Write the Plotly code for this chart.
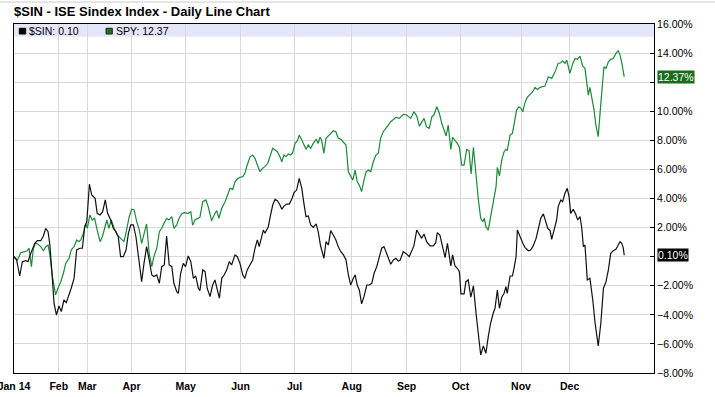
import plotly.graph_objects as go

# ---------------- data (trading-day index, % change) ----------------
sin_day = [
    0.0, 1.0, 2.2, 3.2, 4.5, 5.4, 6.2, 7.0, 8.0, 9.0,
    10.3, 11.3, 12.2, 13.1, 13.8, 14.7, 15.4, 16.3, 17.3, 18.2,
    19.2, 20.1, 21.2, 22.0, 23.1, 24.1, 25.3, 26.3, 27.2, 28.0,
    29.0, 29.9, 31.2, 32.0, 33.1, 34.1, 35.1, 36.0, 37.2, 38.2,
    39.2, 40.1, 41.0, 42.0, 43.1, 44.0, 44.9, 45.9, 46.9, 47.8,
    49.1, 50.0, 51.0, 52.0, 53.0, 53.8, 54.9, 55.9, 56.8, 57.8,
    58.7, 59.7, 60.7, 61.5, 62.6, 63.2, 64.1, 65.1, 66.0, 67.0,
    68.0, 69.0, 69.9, 70.9, 71.5, 72.6, 73.5, 74.3, 75.4, 76.4,
    77.3, 78.2, 79.0, 79.9, 80.8, 81.8, 82.8, 83.7, 85.0, 85.9,
    86.9, 88.0, 88.8, 89.7, 90.8, 91.8, 92.7, 93.6, 94.3, 95.3,
    95.9, 96.5, 97.8, 98.7, 99.5, 100.4, 101.3, 102.3, 103.0, 103.8,
    104.9, 105.9, 106.8, 107.7, 108.7, 109.7, 110.7, 111.3, 112.3, 113.2,
    114.1, 115.1, 116.2, 117.0, 117.9, 119.2, 120.0, 120.9, 121.8, 122.8,
    123.8, 124.7, 125.7, 126.7, 127.7, 128.6, 129.5, 130.5, 131.2, 132.0,
    132.8, 133.7, 134.6, 135.7, 136.7, 137.6, 138.5, 139.5, 140.5, 141.4,
    142.3, 143.1, 144.0, 144.9, 145.9, 146.9, 147.8, 148.5, 149.7, 151.0,
    152.0, 153.0, 153.8, 154.9, 155.9, 156.8, 157.7, 158.7, 160.0, 161.3,
    162.2, 162.8, 163.8, 164.9, 165.8, 166.7, 167.4, 168.0, 168.7, 169.6,
    170.5, 171.3, 171.9, 173.1, 173.8, 174.7, 175.7, 176.7, 177.7, 178.6,
    179.5, 180.5, 181.5, 182.4, 183.3, 184.3, 185.0, 185.9, 186.7, 187.6,
    188.5, 189.2, 189.7, 190.8, 191.7, 192.3, 193.1, 193.6, 194.6, 195.7,
    196.5, 197.8, 198.7, 199.7, 200.8, 201.7, 202.6, 203.6, 204.5, 205.3,
    206.2, 206.8, 207.7, 208.7, 209.3, 210.3, 211.0, 211.9, 212.8, 213.5,
    214.1, 215.1, 216.0, 216.8, 217.7, 218.3, 219.0, 219.6, 220.5, 221.5,
    222.6, 223.5, 224.7, 225.7, 226.7, 227.7, 228.6, 229.5, 230.5, 231.5,
    232.4, 233.1, 233.7, 234.3, 234.7,
]
sin_pct = [
    0.00, -0.23, -1.33, -0.34, -0.27, -0.34, 0.12, 0.51, 0.92, 1.10,
    1.10, 1.42, 1.95, 1.72, 0.80, -1.37, -3.20, -4.01, -3.39, -3.78,
    -2.98, -3.16, -2.63, -2.17, -1.49, 0.46, 0.58, 0.58, 2.06, 2.41,
    4.98, 4.24, 4.01, 2.98, 2.87, 3.09, 3.90, 2.98, 2.52, 1.95,
    1.72, 1.37, 0.00, 0.00, 0.46, 1.61, 2.18, 2.18, 1.37, 0.00,
    -1.72, -0.46, 0.69, -0.23, -1.26, -1.37, -1.26, -1.83, -0.69, -0.57,
    1.42, -0.57, -0.69, -1.83, -2.41, -2.52, -1.14, -0.46, -0.69, 0.05,
    -0.34, -1.49, -1.33, -2.17, -2.34, -0.91, -1.03, -2.17, -2.75, -1.95,
    -1.60, -2.29, -2.86, -1.49, -1.26, -0.91, -0.34, -0.57, 0.12, 0.00,
    -0.46, -1.26, -1.49, -0.91, -0.57, -0.23, 0.58, 1.15, 0.69, 1.37,
    1.83, 1.61, 2.06, 2.87, 3.55, 3.94, 3.85, 3.55, 3.26, 3.48,
    3.62, 3.62, 3.94, 4.40, 4.58, 5.39, 4.70, 3.90, 2.75, 2.80,
    2.18, 2.02, 2.25, 1.72, 0.75, -0.11, 1.03, 0.80, 1.79, 1.49,
    1.15, 0.69, 0.34, 0.12, -0.23, -1.26, -1.95, -1.49, -1.26, -1.95,
    -2.29, -3.25, -2.75, -1.95, -1.95, -1.83, -1.14, -0.69, 0.00, 0.58,
    0.69, 0.34, 0.00, -0.52, -0.23, -0.11, -0.30, -0.25, 0.34, 0.19,
    0.00, 0.41, 0.74, 1.83, 1.56, 1.26, 1.56, 1.03, 0.74, 0.74,
    0.96, 1.65, 1.49, 0.69, -0.07, 0.92, -0.11, -0.64, 0.12, -0.64,
    -0.80, -1.03, -2.56, -2.56, -1.72, -1.60, -2.79, -2.01, -3.89, -5.27,
    -6.76, -6.14, -6.64, -5.50, -4.58, -3.89, -3.55, -2.29, -3.55, -2.79,
    -2.52, -2.06, -2.52, -1.33, -1.33, -0.80, 0.00, 1.83, 1.37, 0.92,
    0.64, 0.41, 0.46, 0.74, 1.26, 1.95, 2.64, 2.94, 2.41, 1.95,
    1.79, 1.19, 1.83, 2.52, 3.44, 3.90, 3.78, 4.36, 4.70, 4.12,
    2.98, 3.26, 2.94, 2.52, 2.75, 2.06, 0.69, 0.80, -1.60, -1.49,
    -2.98, -4.58, -6.14, -4.58, -2.17, -1.72, -0.91, 0.23, 0.41, 0.51,
    0.80, 1.03, 0.92, 0.64, 0.10,
]

spy_day = [
    0.0, 1.3, 2.6, 3.8, 5.1, 5.8, 6.7, 7.4, 8.3, 9.2,
    10.3, 11.3, 12.2, 13.1, 13.8, 14.7, 16.0, 16.9, 18.0, 19.0,
    19.9, 21.2, 22.0, 23.1, 24.1, 25.0, 25.7, 26.7, 27.6, 28.2,
    29.2, 30.1, 31.0, 32.0, 33.1, 34.0, 34.9, 35.7, 36.5, 37.4,
    38.5, 39.7, 41.0, 42.3, 43.3, 44.3, 45.3, 46.2, 47.2, 48.2,
    49.1, 50.0, 51.0, 52.0, 53.0, 53.8, 54.9, 55.9, 56.8, 57.7,
    58.7, 59.6, 60.7, 61.5, 62.6, 63.5, 64.5, 65.4, 67.0, 68.0,
    68.7, 69.6, 70.8, 71.5, 72.6, 73.8, 74.7, 76.0, 77.3, 78.0,
    78.8, 79.9, 81.2, 82.0, 83.1, 84.1, 85.0, 85.9, 86.9, 88.0,
    88.8, 89.7, 90.8, 91.8, 92.7, 93.6, 94.6, 95.5, 96.5, 97.6,
    98.5, 99.5, 100.4, 101.3, 102.3, 103.0, 103.8, 104.6, 105.5, 106.4,
    107.2, 108.1, 109.0, 109.7, 110.7, 111.3, 112.3, 113.2, 114.1, 115.1,
    116.2, 117.0, 117.7, 118.3, 119.2, 120.0, 120.9, 121.8, 122.8, 123.8,
    124.7, 125.7, 126.7, 127.7, 128.6, 129.5, 130.3, 131.2, 132.0, 132.8,
    133.7, 134.6, 135.4, 136.3, 137.2, 138.2, 139.2, 140.1, 141.0, 142.0,
    143.1, 144.0, 144.9, 145.9, 146.9, 148.2, 149.7, 151.0, 152.6, 153.8,
    154.9, 155.9, 156.8, 157.7, 158.7, 159.7, 160.7, 161.5, 162.6, 163.6,
    164.5, 165.4, 166.2, 167.0, 168.0, 168.7, 169.6, 170.5, 171.3, 172.2,
    173.1, 174.1, 175.0, 175.8, 176.7, 177.7, 178.6, 179.5, 180.3, 180.9,
    181.5, 182.4, 183.3, 184.3, 185.4, 185.9, 186.7, 187.6, 188.5, 189.2,
    189.7, 190.8, 191.7, 192.4, 193.3, 194.2, 195.0, 195.7, 196.5, 197.4,
    198.5, 199.5, 200.4, 201.3, 202.3, 204.2, 205.5, 206.8, 208.1, 209.3,
    210.3, 211.0, 211.9, 212.6, 213.8, 214.9, 215.8, 216.7, 217.7, 218.7,
    219.6, 220.9, 221.5, 222.2, 223.1, 223.8, 224.7, 225.7, 226.4, 226.9,
    227.7, 228.6, 229.5, 230.5, 231.5, 232.4, 233.1, 233.7, 234.7,
]
spy_pct = [
    0.00, -0.23, 0.27, 0.34, 0.41, 0.58, -0.69, 0.51, 0.96, 0.85,
    0.69, 0.41, 0.69, 0.80, 0.12, -1.26, -2.63, -2.17, -1.72, -1.14,
    -0.46, -0.11, 0.46, 0.69, 1.15, 1.03, 1.15, 1.61, 2.29, 1.95,
    2.87, 2.52, 2.64, 1.83, 1.03, 1.37, 2.06, 2.52, 1.95, 2.52,
    1.95, 1.49, 1.26, 1.03, 1.83, 2.75, 3.26, 3.21, 2.41, 1.83,
    0.92, 1.49, 2.25, 0.23, -0.69, 0.00, 0.58, 1.72, 1.95, 2.29,
    2.64, 2.52, 2.75, 1.95, 2.18, 2.64, 2.94, 3.03, 2.98, 3.09,
    2.16, 2.52, 2.64, 2.71, 3.78, 3.90, 3.44, 2.47, 2.98, 3.16,
    2.64, 3.33, 3.78, 4.24, 4.70, 4.63, 5.15, 5.34, 5.46, 5.50,
    5.73, 6.30, 6.87, 6.99, 6.76, 6.30, 5.84, 6.07, 6.19, 6.42,
    6.99, 7.45, 7.33, 7.22, 6.87, 6.53, 6.99, 6.87, 7.06, 6.99,
    7.15, 7.79, 7.97, 8.36, 8.02, 7.79, 7.38, 7.68, 7.45, 7.79,
    8.07, 7.79, 8.21, 8.02, 7.11, 8.14, 8.30, 8.48, 8.66, 8.59,
    8.14, 8.07, 7.90, 7.68, 5.84, 5.50, 5.27, 5.96, 5.15, 4.93,
    4.47, 5.27, 5.84, 5.96, 5.84, 6.53, 6.99, 7.11, 8.14, 8.59,
    8.82, 9.05, 9.28, 9.44, 9.58, 9.51, 9.79, 9.74, 9.51, 9.97,
    9.67, 8.98, 9.28, 9.51, 8.93, 8.82, 9.62, 9.74, 10.31, 9.86,
    9.17, 8.71, 8.30, 9.05, 7.38, 8.21, 8.02, 7.79, 7.52, 6.30,
    6.30, 7.38, 7.29, 5.68, 7.52, 5.50, 3.90, 2.64, 2.41, 2.64,
    2.06, 1.83, 2.75, 3.90, 4.81, 6.14, 5.55, 6.65, 7.22, 7.38,
    7.29, 8.36, 8.48, 9.17, 10.08, 10.31, 10.20, 9.97, 10.58, 10.95,
    11.18, 11.34, 11.64, 11.50, 11.64, 11.73, 12.37, 12.26, 12.71, 13.29,
    13.33, 13.47, 13.29, 13.52, 12.60, 13.29, 13.63, 13.57, 13.79, 13.11,
    12.95, 11.11, 11.64, 11.04, 10.08, 9.05, 8.25, 10.54, 12.14, 13.06,
    12.95, 13.40, 13.57, 13.63, 13.98, 14.16, 13.86, 13.40, 12.37,
]

month_labels = ["Jan 14", "Feb", "Mar", "Apr", "May", "Jun", "Jul", "Aug", "Sep", "Oct", "Nov", "Dec"]
month_pos = [0, 17.2, 28.2, 45.2, 66.0, 87.1, 107.9, 129.9, 151.0, 171.7, 195.0, 213.7]

pct_ticks = [16, 14, 12, 10, 8, 6, 4, 2, 0, -2, -4, -6, -8]
pct_labels = ["16.00%", "14.00%", "", "10.00%", "8.00%", "6.00%", "4.00%", "2.00%", "",
              "\u22122.00%", "\u22124.00%", "\u22126.00%", "\u22128.00%"]

sin_last = 0.10
spy_last = 12.37

assert len(sin_day) == len(sin_pct)
assert len(spy_day) == len(spy_pct)

# ---------------- figure ----------------
FONT = "Liberation Sans, Arial, Helvetica, sans-serif"
GREEN = "#1b8a3a"
GRID = "#d9d9d9"

fig = go.Figure()
fig.add_trace(go.Scatter(x=spy_day, y=spy_pct, mode="lines", name="SPY",
                         line=dict(color=GREEN, width=1.2)))
fig.add_trace(go.Scatter(x=sin_day, y=sin_pct, mode="lines", name="$SIN",
                         line=dict(color="#111111", width=1.2)))

fig.update_layout(
    width=715, height=397,
    margin=dict(l=14, r=61, t=24, b=24, autoexpand=False),
    paper_bgcolor="white", plot_bgcolor="white",
    showlegend=False,
    font=dict(family=FONT, size=10.5, color="black"),
    xaxis=dict(
        range=[0, 246.15], tickmode="array", tickvals=month_pos, ticktext=month_labels,
        showgrid=True, gridcolor=GRID, gridwidth=1, zeroline=False, automargin=False,
        showline=True, linecolor="black", linewidth=1, mirror=True,
        ticks="", ticklabeloverflow="allow", ticklabelstandoff=3,
        tickfont=dict(family=FONT, size=10.5, color="black", weight="bold"),
    ),
    yaxis=dict(
        range=[-8, 16], side="right", tickmode="array", tickvals=pct_ticks, ticktext=pct_labels,
        showgrid=True, gridcolor=GRID, gridwidth=1, zeroline=False, automargin=False,
        showline=True, linecolor="black", linewidth=1, mirror=True,
        ticks="inside", ticklen=4, tickcolor="black", tickwidth=1,
        ticklabeloverflow="allow",
        tickfont=dict(family=FONT, size=10.5, color="black"),
    ),
)

shapes = [
    # lavender legend band at top of plot
    dict(type="rect", xref="paper", yref="paper", x0=0, x1=1, y0=0.9636, y1=1,
         fillcolor="#e6e6fa", line=dict(width=0), layer="below"),
    # legend swatches
    dict(type="rect", xref="paper", yref="paper", x0=0.0083, x1=0.0183, y0=0.9713, y1=0.9877,
         fillcolor="black", line=dict(color="black", width=1)),
    dict(type="rect", xref="paper", yref="paper", x0=0.1438, x1=0.1536, y0=0.9713, y1=0.9877,
         fillcolor="#1a7a1a", line=dict(color="#222222", width=1)),
    # thin gray line at very top of image
    dict(type="line", xref="paper", yref="paper", x0=-0.03, x1=1.1, y0=1.063, y1=1.063,
         line=dict(color="#cccccc", width=1)),
]
fig.update_layout(shapes=shapes)

annotations = [
    dict(text="<b>$SIN - ISE Sindex Index - Daily Line Chart</b>", xref="paper", yref="paper",
         x=-0.003, y=1.0344, xanchor="left", yanchor="middle", showarrow=False,
         font=dict(family=FONT, size=13, color="black")),
    dict(text="$SIN: %.2f" % sin_last, xref="paper", yref="paper", x=0.0205, y=0.9794,
         xanchor="left", yanchor="middle", showarrow=False,
         font=dict(family=FONT, size=10.5, color="black")),
    dict(text="SPY: %.2f" % spy_last, xref="paper", yref="paper", x=0.156, y=0.9794,
         xanchor="left", yanchor="middle", showarrow=False,
         font=dict(family=FONT, size=10.5, color="black")),
    dict(text="%.2f%%" % spy_last, xref="paper", yref="y", x=1.0047, y=spy_last,
         xanchor="left", yanchor="middle", showarrow=False, bgcolor="#1a6b1a", borderpad=0,
         font=dict(family=FONT, size=10.5, color="white")),
    dict(text="%.2f%%" % sin_last, xref="paper", yref="y", x=1.0047, y=sin_last,
         xanchor="left", yanchor="middle", showarrow=False, bgcolor="black", borderpad=0,
         font=dict(family=FONT, size=10.5, color="white")),
]
fig.update_layout(annotations=annotations)

fig.write_html("out.html", config={"displayModeBar": False})

# remove default page margin so the chart sits at the page origin
with open("out.html", "r", encoding="utf-8") as f:
    html = f.read()
html = html.replace("<head>", "<head><style>body{margin:0;padding:0;}</style>", 1)
with open("out.html", "w", encoding="utf-8") as f:
    f.write(html)
